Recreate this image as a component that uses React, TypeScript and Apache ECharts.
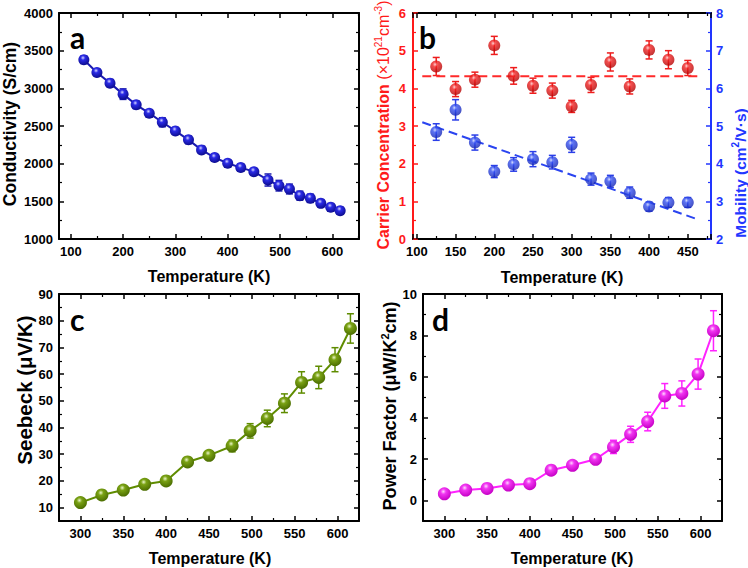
import React, { useEffect, useRef } from 'react';
import * as echarts from 'echarts';

// ---- Data ----
const tempA = [125, 150, 175, 200, 225, 250, 275, 300, 325, 350, 375, 400, 425, 450, 477, 498, 518, 538, 558, 578, 597, 615];
const conductivity = [3380, 3211, 3069, 2923, 2781, 2670, 2550, 2435, 2316, 2183, 2081, 2005, 1948, 1894, 1783, 1708, 1664, 1575, 1540, 1473, 1420, 1376];
const conductivityErr = [50, 40, 45, 70, 50, 45, 60, 45, 50, 40, 40, 45, 45, 40, 80, 70, 65, 60, 55, 50, 50, 45];

const tempB = [125, 150, 175, 200, 225, 250, 275, 300, 325, 350, 375, 400, 425, 450];
const carrier = [4.58, 3.98, 4.23, 5.14, 4.33, 4.07, 3.94, 3.52, 4.09, 4.7, 4.05, 5.02, 4.76, 4.54];
const carrierErr = [0.24, 0.2, 0.2, 0.24, 0.22, 0.2, 0.2, 0.16, 0.2, 0.24, 0.2, 0.24, 0.24, 0.2];
const mobility = [4.84, 5.43, 4.56, 3.79, 3.98, 4.12, 4.04, 4.5, 3.59, 3.53, 3.23, 2.86, 2.97, 2.97];
const mobilityErr = [0.22, 0.27, 0.2, 0.16, 0.18, 0.2, 0.18, 0.2, 0.16, 0.16, 0.15, 0.12, 0.13, 0.13];
const carrierFitX = [107, 463];
const carrierFitY = [4.32, 4.32];
const mobilityFitX = [107, 463];
const mobilityFitY = [5.1, 2.52];

const tempC = [300, 325, 350, 375, 400, 425, 450, 477, 498, 518, 538, 558, 578, 597, 615];
const seebeck = [11.9, 14.75, 16.6, 18.75, 20, 27.1, 29.6, 33.1, 38.75, 43.4, 49.1, 56.9, 58.75, 65.4, 77.1];
const seebeckErr = [0.8, 0.8, 0.9, 1, 1, 1.2, 1.5, 2.2, 2.7, 3.1, 3.5, 4, 4.2, 4.5, 5.5];

const tempD = [300, 325, 350, 375, 400, 425, 450, 477, 498, 518, 538, 558, 578, 597, 615];
const powerFactor = [0.32, 0.5, 0.58, 0.74, 0.81, 1.46, 1.7, 1.99, 2.59, 3.2, 3.82, 5.06, 5.18, 6.12, 8.22];
const powerFactorErr = [0.08, 0.08, 0.08, 0.1, 0.1, 0.1, 0.12, 0.15, 0.32, 0.39, 0.45, 0.6, 0.61, 0.73, 0.97];

const FONT = '"Liberation Sans", Arial, sans-serif';
const RED = '#ff1a1a';
const BLUE = '#2236ff';

const sphere = (light: string, mid: string, dark: string) =>
  new echarts.graphic.RadialGradient(0.42, 0.33, 0.68, [
    { offset: 0, color: light },
    { offset: 0.3, color: mid },
    { offset: 1, color: dark },
  ]);

const errRender = (color: string, capHalf: number) => (params: any, api: any) => {
  const x = api.value(0);
  const p1 = api.coord([x, api.value(2)]);
  const p2 = api.coord([x, api.value(1)]);
  const st = { stroke: color, lineWidth: 1.5 };
  return {
    type: 'group',
    children: [
      { type: 'line', shape: { x1: p1[0], y1: p1[1], x2: p2[0], y2: p2[1] }, style: st },
      { type: 'line', shape: { x1: p1[0] - capHalf, y1: p1[1], x2: p1[0] + capHalf, y2: p1[1] }, style: st },
      { type: 'line', shape: { x1: p2[0] - capHalf, y1: p2[1], x2: p2[0] + capHalf, y2: p2[1] }, style: st },
    ],
  };
};

const errSeries = (xs: number[], ys: number[], es: number[], xi: number, yi: number, color: string) => ({
  type: 'custom',
  xAxisIndex: xi,
  yAxisIndex: yi,
  z: 1,
  renderItem: errRender(color, 3.5),
  encode: { x: 0, y: [1, 2] },
  data: xs.map((x, i) => [x, ys[i] - es[i], ys[i] + es[i]]),
  silent: true,
});

const axisParts = (color: string) => ({
  axisLine: { show: true, onZero: false, lineStyle: { color, width: 2 } },
  axisTick: { show: true, inside: true, length: 5, lineStyle: { color, width: 1.5 } },
  minorTick: { show: true, splitNumber: 2, length: 3, lineStyle: { color, width: 1.2 } },
  splitLine: { show: false },
  minorSplitLine: { show: false },
});

const label = (color: string, show: boolean, showMin: boolean, showMax: boolean, margin = 6) => ({
  show,
  color,
  fontFamily: FONT,
  fontWeight: 'bold',
  fontSize: 13,
  margin,
  showMinLabel: showMin,
  showMaxLabel: showMax,
  formatter: (v: number) => String(v),
});

const xPair = (grid: number, min: number, max: number, split: number) => [
  { type: 'value', gridIndex: grid, position: 'bottom', min, max, splitNumber: split, ...axisParts('#000'), axisLabel: label('#000', true, false, false) },
  { type: 'value', gridIndex: grid, position: 'top', min, max, splitNumber: split, ...axisParts('#000'), axisLabel: label('#000', false, false, false) },
];

const yAxisDef = (grid: number, pos: string, min: number, max: number, split: number, color: string, show: boolean, showMin: boolean, showMax: boolean, margin = 6) => ({
  type: 'value', gridIndex: grid, position: pos, min, max, splitNumber: split, ...axisParts(color), axisLabel: label(color, show, showMin, showMax, margin),
});

const titleText = (text: string, x: number, y: number, rot: boolean, size = 16, color = '#000', rich?: any) => ({
  type: 'text',
  x,
  y,
  rotation: rot ? Math.PI / 2 : 0,
  style: {
    text,
    fill: color,
    fontFamily: FONT,
    fontWeight: 'bold',
    fontSize: size,
    align: 'center',
    verticalAlign: 'middle',
    rich,
  },
});

const letter = (t: string, x: number, y: number) => ({
  type: 'text',
  x,
  y,
  style: { text: t, fill: '#000', fontFamily: 'Lato, "Open Sans", sans-serif', fontWeight: 'bold', fontSize: 30, align: 'left', verticalAlign: 'middle' },
});

export default function App() {
  const ref = useRef<HTMLDivElement>(null);
  useEffect(() => {
    if (!ref.current) return;
    const chart = echarts.init(ref.current, null, { renderer: 'svg' });
    const richB = {
      m: { fontFamily: FONT, fontWeight: 'bold', fontSize: 16, color: RED, lineHeight: 20 },
      n: { fontFamily: FONT, fontWeight: 'normal', fontSize: 16, color: RED, lineHeight: 20 },
      s: { fontFamily: FONT, fontWeight: 'normal', fontSize: 10, color: RED, lineHeight: 20, verticalAlign: 'top' },
    };
    const richMob = {
      m: { fontFamily: FONT, fontWeight: 'bold', fontSize: 15.5, color: BLUE, lineHeight: 20 },
      s: { fontFamily: FONT, fontWeight: 'bold', fontSize: 10, color: BLUE, lineHeight: 20, verticalAlign: 'top' },
    };
    const richPF = {
      m: { fontFamily: FONT, fontWeight: 'bold', fontSize: 18, color: '#000', lineHeight: 22 },
      s: { fontFamily: FONT, fontWeight: 'bold', fontSize: 11, color: '#000', lineHeight: 22, verticalAlign: 'top' },
    };
    const option: any = {
      animation: false,
      backgroundColor: '#fff',
      textStyle: { fontFamily: FONT },
      grid: [
        { left: 59, top: 13, width: 300, height: 226, outerBoundsMode: 'none', containLabel: false },
        { left: 413, top: 13, width: 298, height: 226, outerBoundsMode: 'none', containLabel: false },
        { left: 59, top: 294, width: 300, height: 227, outerBoundsMode: 'none', containLabel: false },
        { left: 423, top: 294, width: 299, height: 227, outerBoundsMode: 'none', containLabel: false },
      ],
      xAxis: [
        ...xPair(0, 77.5, 651, 6),
        ...xPair(1, 95, 480, 8),
        ...xPair(2, 275, 625, 7),
        ...xPair(3, 275, 625, 7),
      ],
      yAxis: [
        yAxisDef(0, 'left', 1000, 4000, 6, '#000', true, true, true),
        yAxisDef(0, 'right', 1000, 4000, 6, '#000', false, true, true),
        yAxisDef(1, 'left', 0, 6, 6, RED, true, true, true, 7),
        yAxisDef(1, 'right', 2, 8, 6, BLUE, true, true, true, 5),
        yAxisDef(2, 'left', 5, 90, 8, '#000', true, false, true),
        yAxisDef(2, 'right', 5, 90, 8, '#000', false, false, true),
        yAxisDef(3, 'left', -1, 10, 6, '#000', true, false, true),
        yAxisDef(3, 'right', -1, 10, 6, '#000', false, false, true),
      ],
      series: [
        errSeries(tempA, conductivity, conductivityErr, 0, 0, '#1a1ab0'),
        {
          type: 'line', xAxisIndex: 0, yAxisIndex: 0, z: 2,
          data: tempA.map((t, i) => [t, conductivity[i]]),
          symbol: 'circle', symbolSize: 11,
          lineStyle: { color: '#1a1ab0', width: 2 },
          itemStyle: { color: sphere('#d6d6ff', '#2b2be6', '#0b0b8c') },
        },
        errSeries(tempB, carrier, carrierErr, 2, 2, '#ee1c1c'),
        {
          type: 'scatter', xAxisIndex: 2, yAxisIndex: 2, z: 2,
          data: tempB.map((t, i) => [t, carrier[i]]),
          symbol: 'circle', symbolSize: 12,
          itemStyle: { color: sphere('#ffd2d2', '#f02222', '#b00000') },
        },
        errSeries(tempB, mobility, mobilityErr, 2, 3, '#2a3ee8'),
        {
          type: 'scatter', xAxisIndex: 2, yAxisIndex: 3, z: 2,
          data: tempB.map((t, i) => [t, mobility[i]]),
          symbol: 'circle', symbolSize: 12,
          itemStyle: { color: sphere('#d2daff', '#3450f0', '#1424b0') },
        },
        {
          type: 'line', xAxisIndex: 2, yAxisIndex: 2, z: 1,
          data: carrierFitX.map((x, i) => [x, carrierFitY[i]]),
          symbol: 'none',
          lineStyle: { color: '#ff2a2a', width: 2, type: [9, 5] },
        },
        {
          type: 'line', xAxisIndex: 2, yAxisIndex: 3, z: 1,
          data: mobilityFitX.map((x, i) => [x, mobilityFitY[i]]),
          symbol: 'none',
          lineStyle: { color: '#2a44f0', width: 2, type: [9, 5] },
        },
        errSeries(tempC, seebeck, seebeckErr, 4, 4, '#5f8c00'),
        {
          type: 'line', xAxisIndex: 4, yAxisIndex: 4, z: 2,
          data: tempC.map((t, i) => [t, seebeck[i]]),
          symbol: 'circle', symbolSize: 13,
          lineStyle: { color: '#5f8c00', width: 2 },
          itemStyle: { color: sphere('#eaf6c8', '#7aa214', '#4a6c00') },
        },
        errSeries(tempD, powerFactor, powerFactorErr, 6, 6, '#ff22ff'),
        {
          type: 'line', xAxisIndex: 6, yAxisIndex: 6, z: 2,
          data: tempD.map((t, i) => [t, powerFactor[i]]),
          symbol: 'circle', symbolSize: 13,
          lineStyle: { color: '#ff22ff', width: 2 },
          itemStyle: { color: sphere('#ffd8ff', '#f236f2', '#c400c4') },
        },
      ],
      graphic: [
        titleText('Conductivity (S/cm)', 10, 124, true, 17.5),
        titleText('Temperature (K)', 209, 276, false),
        titleText('{m|Carrier Concentration }{n|(×10}{s|21}{n|cm}{s|-3}{n|)}', 383, 125, true, 16, RED, richB),
        titleText('{m|Mobility (cm}{s|2}{m|/V·s)}', 740, 173, true, 15.5, BLUE, richMob),
        titleText('Temperature (K)', 562, 277, false),
        titleText('Seebeck (μV/K)', 24, 390, true, 20.5),
        titleText('Temperature (K)', 210, 558, false),
        titleText('{m|Power Factor (μW/K}{s|2}{m|cm)}', 390, 406, true, 18, '#000', richPF),
        titleText('Temperature (K)', 572, 558, false),
        letter('a', 70, 37),
        letter('b', 419, 37),
        letter('c', 70, 319),
        letter('d', 432, 319),
      ],
    };
    chart.setOption(option);
    return () => chart.dispose();
  }, []);
  return <div ref={ref} style={{ position: 'fixed', left: 0, top: 0, width: 748, height: 568, background: '#fff' }} />;
}
